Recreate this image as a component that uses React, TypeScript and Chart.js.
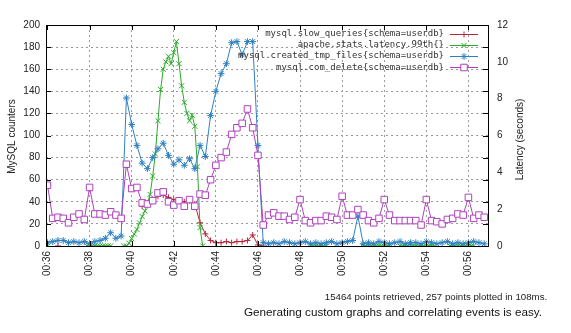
import React, { useEffect, useRef } from 'react';
import { Chart, registerables } from 'chart.js';
import { drawPoint } from 'chart.js/helpers';

Chart.register(...registerables);

const _ = null;

// ---- data ----
const START_MINUTE = 36; // 00:36
const SAMPLE_SECONDS = 15; // mysql series
const LATENCY_SAMPLE_SECONDS = 7.5; // apache latency series

const xTickLabels = ['00:36', '00:38', '00:40', '00:42', '00:44', '00:46', '00:48', '00:50', '00:52', '00:54', '00:56'];
const leftTickValues = [0, 20, 40, 60, 80, 100, 120, 140, 160, 180, 200];
const rightTickValues = [0, 2, 4, 6, 8, 10, 12];

const seriesNames = [
  'mysql.slow_queries{schema=userdb}',
  'apache.stats.latency.99th{}',
  'mysql.created_tmp_files{schema=userdb}',
  'mysql.com_delete{schema=userdb}',
];

const slowQueries = [
  _, _, 0, _, _, _, _, _, _, _,
  _, _, _, _, _, _, _, _, 36, 39,
  42, 45, 46, 44, 42, 41, 40, 41, 38, 21,
  11, 5, 3, 3, 4, 3, 4, 4, 5, 10,
  1, 0, _, _, _, _, _, _, _, _,
  _, _, _, _, _, _, _, _, _, _,
  _, _, _, _, _, _, _, _, _, _,
  _, _, _, _, _, _, _, _, _, _,
  _, _, _, _,
];

// seconds (right axis)
const latency99th = [
  0, _, _, _, _, _, _, _, _, _,
  _, _, _, _, _, 0, 0, 0, 0, 0,
  0, 0, 0, 0, 0, _, _, _, _, 0,
  0, 0.15, 0.4, 0.65, 0.9, 1.25, 1.6, 1.9, 2.3, 2.8,
  3.8, 5.0, 6.8, 8.5, 9.6, 10.0, 10.3, 9.9, 10.5, 11.1,
  9.9, 8.7, 7.8, 7.2, 6.8, 7.1, 6.5, 4.3, 1.0, 0,
  _, _, _, _, _, _, _, _, _, _,
  _, _, _, _, _, _, _, _, _, _,
  _, _, _, _, _, _, _, _, _, _,
  _, _, _, _, _, _, _, _, _, _,
  0, 0, 0, 0, 0, 0, 0, _, _, _,
  _, _, _, _, _, _, _, _, _, _,
  0, 0, 0, 0, 0, 0, 0, 0, 0, 0,
  0, _, _, _, 0, 0, 0, 0, 0, 0,
  0, 0, 0, 0, 0, 0, 0, 0, _, _,
  _, _, _, 0, 0, 0, 0, 0, 0, 0,
  0, 0, 0, _, _, _, _, _,
];

const createdTmpFiles = [
  3, 4, 5, 5, 3, 4, 3, 4, 2, 4,
  5, 7, 12, 7, 9, 134, 110, 91, 75, 70,
  80, 88, 93, 82, 74, 78, 73, 79, 70, 91,
  81, 118, 140, 156, 165, 184, 185, 173, 185, 185,
  91, 3, 2, 3, 2, 4, 3, 2, 3, 4,
  2, 3, 2, 3, 4, 2, 3, 4, 5, 27,
  2, 3, 2, 4, 3, 2, 3, 4, 2, 3,
  3, 2, 4, 3, 2, 3, 4, 2, 3, 2,
  3, 4, 3, 2,
];

const comDelete = [
  55, 25, 26, 25, 21, 26, 29, 24, 53, 29,
  29, 28, 31, 28, 25, 74, 52, 53, 39, 38,
  41, 48, 49, 40, 37, 41, 36, 42, 36, 47,
  46, 60, 73, 80, 85, 101, 107, 111, 124, 107,
  82, 19, 28, 30, 27, 27, 24, 26, 42, 23,
  21, 23, 23, 27, 26, 24, 45, 28, 28, 33,
  28, 23, 21, 25, 42, 28, 23, 23, 23, 23,
  23, 19, 42, 23, 22, 20, 24, 25, 29, 28,
  44, 25, 28, 26,
];

// ---- styling ----
const COLORS = ['#b3263a', '#2aab2a', '#2f80c2', '#b040c0'];
const STYLES = ['cross', 'crossRot', 'star', 'rect'];
const RADII = [3, 3.6, 3.4, 4.6];
const FILLS = ['#b3263a', '#2aab2a', '#2f80c2', '#ffffff'];
const TICK_FONT = { family: '"Liberation Sans", Arial, sans-serif', size: 10 };

const labelToMinutes = (label: string) => {
  const [h, m] = label.split(':').map(Number);
  return h * 60 + m - START_MINUTE;
};

const toPoints = (values: (number | null)[], stepSeconds: number) =>
  values.map((v, i) => ({ x: (i * stepSeconds) / 60, y: v }));

const decorPlugin = {
  id: 'decor',
  afterDraw(chart: any) {
    const { ctx, chartArea: a, scales } = chart;
    ctx.save();
    // inward tick marks
    ctx.strokeStyle = '#000';
    ctx.lineWidth = 1;
    ctx.beginPath();
    leftTickValues.forEach((v) => {
      const y = Math.round(scales.y.getPixelForValue(v)) + 0.5;
      ctx.moveTo(a.left, y); ctx.lineTo(a.left + 5, y);
      ctx.moveTo(a.right, y); ctx.lineTo(a.right - 5, y);
    });
    xTickLabels.forEach((l) => {
      const x = Math.round(scales.x.getPixelForValue(labelToMinutes(l))) + 0.5;
      ctx.moveTo(x, a.bottom); ctx.lineTo(x, a.bottom - 5);
      ctx.moveTo(x, a.top); ctx.lineTo(x, a.top + 5);
    });
    ctx.stroke();
    // frame
    ctx.strokeRect(Math.round(a.left) + 0.5, Math.round(a.top) + 0.5, Math.round(a.right - a.left), Math.round(a.bottom - a.top));

    // axis titles
    ctx.fillStyle = '#222';
    ctx.font = '10px "Liberation Sans", Arial, sans-serif';
    ctx.textAlign = 'center';
    ctx.textBaseline = 'middle';
    const cy = (a.top + a.bottom) / 2 + 1;
    ctx.save();
    ctx.translate(12, cy);
    ctx.rotate(-Math.PI / 2);
    ctx.fillText('MySQL counters', 0, 0);
    ctx.restore();
    ctx.save();
    ctx.translate(520, cy + 3);
    ctx.rotate(-Math.PI / 2);
    ctx.fillText('Latency (seconds)', 0, 0);
    ctx.restore();

    // legend
    ctx.font = '9px "DejaVu Sans Mono", monospace';
    ctx.textAlign = 'right';
    seriesNames.forEach((name, i) => {
      const y = 33.5 + i * 11.3;
      const py = Math.round(y) + 0.5;
      ctx.fillStyle = '#333';
      ctx.fillText(name, 444, y);
      ctx.strokeStyle = COLORS[i];
      ctx.lineWidth = 1;
      ctx.beginPath();
      ctx.moveTo(450, py);
      ctx.lineTo(478, py);
      ctx.stroke();
      ctx.fillStyle = FILLS[i];
      ctx.strokeStyle = COLORS[i];
      drawPoint(ctx, {
        pointStyle: STYLES[i],
        radius: RADII[i],
        rotation: 0,
        borderWidth: 1,
      } as any, 464, py);
    });
    ctx.restore();
  },
};

function App() {
  const ref = useRef<HTMLCanvasElement>(null);

  useEffect(() => {
    if (!ref.current) return;
    const mk = (i: number, data: any[], axis: string, order: number) => ({
      label: seriesNames[i],
      data,
      yAxisID: axis,
      borderColor: COLORS[i],
      backgroundColor: FILLS[i],
      borderWidth: 1,
      pointStyle: STYLES[i],
      pointRadius: RADII[i],
      pointBorderColor: COLORS[i],
      pointBorderWidth: 1,
      pointBackgroundColor: FILLS[i],
      tension: 0,
      spanGaps: false,
      order,
    });
    const chart = new Chart(ref.current, {
      type: 'line',
      data: {
        datasets: [
          mk(0, toPoints(slowQueries, SAMPLE_SECONDS), 'y', 4),
          mk(1, toPoints(latency99th, LATENCY_SAMPLE_SECONDS), 'y2', 3),
          mk(2, toPoints(createdTmpFiles, SAMPLE_SECONDS), 'y', 2),
          mk(3, toPoints(comDelete, SAMPLE_SECONDS), 'y', 1),
        ],
      },
      options: {
        animation: false,
        responsive: false,
        maintainAspectRatio: false,
        layout: { padding: { top: 25, right: 41, left: 0, bottom: 0 } },
        plugins: { legend: { display: false }, tooltip: { enabled: false } },
        scales: {
          x: {
            type: 'linear',
            position: 'bottom',
            min: -0.07,
            max: 20.93,
            afterBuildTicks: (s: any) => {
              s.ticks = xTickLabels.map((l) => ({ value: labelToMinutes(l) }));
            },
            afterFit: (s: any) => { s.height = 87; },
            ticks: {
              autoSkip: false,
              minRotation: 90,
              maxRotation: 90,
              padding: 5,
              color: '#222',
              font: TICK_FONT,
              callback: (v: any) => xTickLabels.find((l) => labelToMinutes(l) === v) ?? '',
            },
            grid: {
              drawTicks: false,
              color: (c: any) => (c.tick && c.tick.value === 0 ? 'rgba(0,0,0,0)' : '#9a9a9a'),
              lineWidth: 1,
            },
            border: { display: false, dash: [2, 3] },
          },
          y: {
            position: 'left',
            min: 0,
            max: 200,
            afterBuildTicks: (s: any) => { s.ticks = leftTickValues.map((v) => ({ value: v })); },
            afterFit: (s: any) => { s.width = 46; },
            ticks: { padding: 6, color: '#222', font: TICK_FONT },
            grid: {
              drawTicks: false,
              color: (c: any) => (c.tick && (c.tick.value === 0 || c.tick.value === 200) ? 'rgba(0,0,0,0)' : '#9a9a9a'),
              lineWidth: 1,
            },
            border: { display: false, dash: [2, 3] },
          },
          y2: {
            position: 'right',
            min: 0,
            max: 12,
            afterBuildTicks: (s: any) => { s.ticks = rightTickValues.map((v) => ({ value: v })); },
            afterFit: (s: any) => { s.width = 42; },
            ticks: { padding: 9, color: '#222', font: TICK_FONT },
            grid: { display: false, drawTicks: false },
            border: { display: false },
          },
        },
      } as any,
      plugins: [decorPlugin],
    });
    return () => chart.destroy();
  }, []);

  return (
    <div style={{ position: 'absolute', left: 0, top: 0, width: 571, height: 333, background: '#fff', overflow: 'hidden' }}>
      <canvas ref={ref} width={571} height={333} style={{ position: 'absolute', left: 0, top: 0, width: 571, height: 333 }} />
      <div style={{ position: 'absolute', left: 300, width: 272, top: 291, textAlign: 'center', font: '9.7px "Liberation Sans", Arial, sans-serif', color: '#222', lineHeight: '12px', whiteSpace: 'nowrap' }}>
        15464 points retrieved, 257 points plotted in 108ms.
      </div>
      <div style={{ position: 'absolute', left: 193, width: 400, top: 304, textAlign: 'center', font: '11.7px "Liberation Sans", Arial, sans-serif', color: '#111', lineHeight: '16px', whiteSpace: 'nowrap' }}>
        Generating custom graphs and correlating events is easy.
      </div>
    </div>
  );
}

export default App;
